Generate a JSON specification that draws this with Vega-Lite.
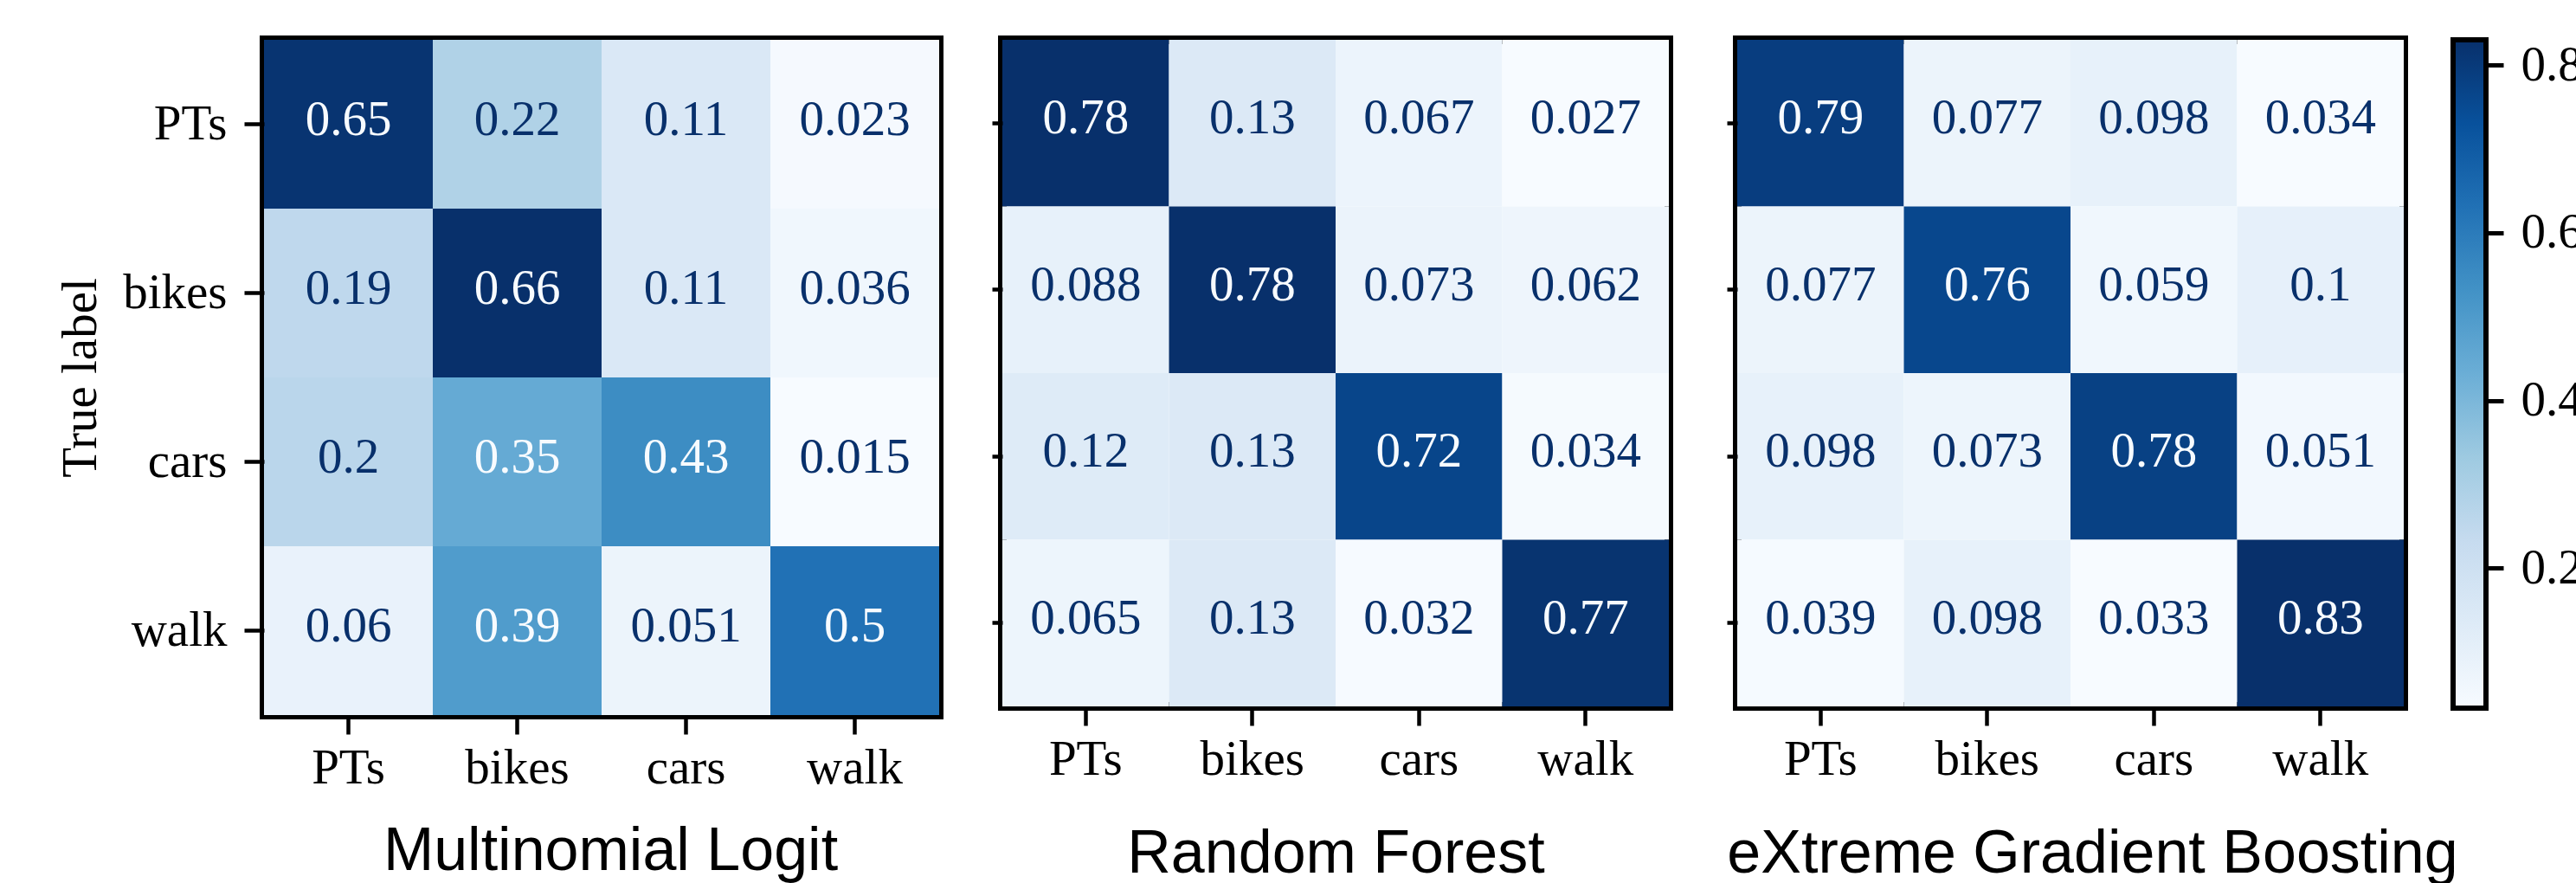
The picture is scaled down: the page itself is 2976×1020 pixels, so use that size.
{
  "$schema": "https://vega.github.io/schema/vega-lite/v6.json",
  "background": "white",
  "padding": {"left": 59, "top": 41, "right": 0, "bottom": 0},
  "config": {
    "view": {"stroke": "black", "strokeWidth": 10},
    "axis": {"grid": false, "domain": false, "tickColor": "black", "tickWidth": 4.5, "labelColor": "black", "labelFont": "Liberation Serif", "labelFontSize": 57, "titleColor": "black", "titleFontWeight": "normal"}
  },
  "datasets": {
    "ml": [
      {"true": "PTs", "pred": "PTs", "v": 0.65}, {"true": "PTs", "pred": "bikes", "v": 0.22}, {"true": "PTs", "pred": "cars", "v": 0.11}, {"true": "PTs", "pred": "walk", "v": 0.023},
      {"true": "bikes", "pred": "PTs", "v": 0.19}, {"true": "bikes", "pred": "bikes", "v": 0.66}, {"true": "bikes", "pred": "cars", "v": 0.11}, {"true": "bikes", "pred": "walk", "v": 0.036},
      {"true": "cars", "pred": "PTs", "v": 0.2}, {"true": "cars", "pred": "bikes", "v": 0.35}, {"true": "cars", "pred": "cars", "v": 0.43}, {"true": "cars", "pred": "walk", "v": 0.015},
      {"true": "walk", "pred": "PTs", "v": 0.06}, {"true": "walk", "pred": "bikes", "v": 0.39}, {"true": "walk", "pred": "cars", "v": 0.051}, {"true": "walk", "pred": "walk", "v": 0.5}
    ],
    "rf": [
      {"true": "PTs", "pred": "PTs", "v": 0.78}, {"true": "PTs", "pred": "bikes", "v": 0.13}, {"true": "PTs", "pred": "cars", "v": 0.067}, {"true": "PTs", "pred": "walk", "v": 0.027},
      {"true": "bikes", "pred": "PTs", "v": 0.088}, {"true": "bikes", "pred": "bikes", "v": 0.78}, {"true": "bikes", "pred": "cars", "v": 0.073}, {"true": "bikes", "pred": "walk", "v": 0.062},
      {"true": "cars", "pred": "PTs", "v": 0.12}, {"true": "cars", "pred": "bikes", "v": 0.13}, {"true": "cars", "pred": "cars", "v": 0.72}, {"true": "cars", "pred": "walk", "v": 0.034},
      {"true": "walk", "pred": "PTs", "v": 0.065}, {"true": "walk", "pred": "bikes", "v": 0.13}, {"true": "walk", "pred": "cars", "v": 0.032}, {"true": "walk", "pred": "walk", "v": 0.77}
    ],
    "xgb": [
      {"true": "PTs", "pred": "PTs", "v": 0.79}, {"true": "PTs", "pred": "bikes", "v": 0.077}, {"true": "PTs", "pred": "cars", "v": 0.098}, {"true": "PTs", "pred": "walk", "v": 0.034},
      {"true": "bikes", "pred": "PTs", "v": 0.077}, {"true": "bikes", "pred": "bikes", "v": 0.76}, {"true": "bikes", "pred": "cars", "v": 0.059}, {"true": "bikes", "pred": "walk", "v": 0.1},
      {"true": "cars", "pred": "PTs", "v": 0.098}, {"true": "cars", "pred": "bikes", "v": 0.073}, {"true": "cars", "pred": "cars", "v": 0.78}, {"true": "cars", "pred": "walk", "v": 0.051},
      {"true": "walk", "pred": "PTs", "v": 0.039}, {"true": "walk", "pred": "bikes", "v": 0.098}, {"true": "walk", "pred": "cars", "v": 0.033}, {"true": "walk", "pred": "walk", "v": 0.83}
    ]
  },
  "resolve": {"scale": {"color": "independent"}},
  "spacing": 48,
  "hconcat": [
    {
      "width": 780, "height": 780,
      "data": {"name": "ml"},
      "encoding": {
        "x": {"field": "pred", "type": "nominal", "sort": ["PTs", "bikes", "cars", "walk"], "scale": {"paddingInner": 0, "paddingOuter": 0},
          "axis": {"labelAngle": 0, "labelPadding": 11, "tickSize": 22, "title": "Multinomial Logit", "titleFont": "Liberation Sans", "titleFontSize": 70, "titlePadding": 34, "titleX": 400}},
        "y": {"field": "true", "type": "nominal", "sort": ["PTs", "bikes", "cars", "walk"], "scale": {"paddingInner": 0, "paddingOuter": 0},
          "axis": {"labelPadding": 20, "tickSize": 23, "title": "True label", "titleFont": "Liberation Serif", "titleFontSize": 57, "titlePadding": 19}}
      },
      "layer": [
        {"mark": "rect", "encoding": {"color": {"field": "v", "type": "quantitative", "legend": null,
          "scale": {"domain": [0.015, 0.095625, 0.17625, 0.256875, 0.3375, 0.418125, 0.49875, 0.579375, 0.66], "range": ["#f7fbff", "#deebf7", "#c6dbef", "#9ecae1", "#6baed6", "#4292c6", "#2171b5", "#08519c", "#08306b"], "interpolate": "rgb"}}}},
        {"mark": {"type": "text", "font": "Liberation Serif", "fontSize": 57, "dy": -5},
          "encoding": {"text": {"field": "v", "type": "nominal"}, "color": {"condition": {"test": "datum.v > 0.3375", "value": "#f7fbff"}, "value": "#08306b"}}}
      ]
    },
    {
      "spacing": 54,
      "resolve": {"scale": {"color": "independent"}},
      "hconcat": [
        {
          "width": 770, "height": 770,
          "data": {"name": "rf"},
          "encoding": {
            "x": {"field": "pred", "type": "nominal", "sort": ["PTs", "bikes", "cars", "walk"], "scale": {"paddingInner": 0, "paddingOuter": 0},
              "axis": {"labelAngle": 0, "labelPadding": 11, "tickSize": 22, "title": "Random Forest", "titleFont": "Liberation Sans", "titleFontSize": 70, "titlePadding": 47}},
            "y": {"field": "true", "type": "nominal", "sort": ["PTs", "bikes", "cars", "walk"], "scale": {"paddingInner": 0, "paddingOuter": 0},
              "axis": {"labels": false, "tickSize": 12, "title": null}}
          },
          "layer": [
            {"mark": "rect", "encoding": {"color": {"field": "v", "type": "quantitative", "legend": null,
              "scale": {"domain": [0.027, 0.121125, 0.21525, 0.309375, 0.4035, 0.497625, 0.59175, 0.685875, 0.78], "range": ["#f7fbff", "#deebf7", "#c6dbef", "#9ecae1", "#6baed6", "#4292c6", "#2171b5", "#08519c", "#08306b"], "interpolate": "rgb"}}}},
            {"mark": {"type": "text", "font": "Liberation Serif", "fontSize": 57, "dy": -5},
              "encoding": {"text": {"field": "v", "type": "nominal"}, "color": {"condition": {"test": "datum.v > 0.4035", "value": "#f7fbff"}, "value": "#08306b"}}}
          ]
        },
        {
          "spacing": 57,
          "bounds": "flush",
          "resolve": {"scale": {"color": "independent"}},
          "hconcat": [
            {
              "width": 770, "height": 770,
              "data": {"name": "xgb"},
              "encoding": {
                "x": {"field": "pred", "type": "nominal", "sort": ["PTs", "bikes", "cars", "walk"], "scale": {"paddingInner": 0, "paddingOuter": 0},
                  "axis": {"labelAngle": 0, "labelPadding": 11, "tickSize": 22, "title": "eXtreme Gradient Boosting", "titleFont": "Liberation Sans", "titleFontSize": 70, "titlePadding": 47, "titleX": 410}},
                "y": {"field": "true", "type": "nominal", "sort": ["PTs", "bikes", "cars", "walk"], "scale": {"paddingInner": 0, "paddingOuter": 0},
                  "axis": {"labels": false, "tickSize": 12, "title": null}}
              },
              "layer": [
                {"mark": "rect", "encoding": {"color": {"field": "v", "type": "quantitative", "legend": null,
                  "scale": {"domain": [0.033, 0.132625, 0.23225, 0.331875, 0.4315, 0.531125, 0.63075, 0.730375, 0.83], "range": ["#f7fbff", "#deebf7", "#c6dbef", "#9ecae1", "#6baed6", "#4292c6", "#2171b5", "#08519c", "#08306b"], "interpolate": "rgb"}}}},
                {"mark": {"type": "text", "font": "Liberation Serif", "fontSize": 57, "dy": -5},
                  "encoding": {"text": {"field": "v", "type": "nominal"}, "color": {"condition": {"test": "datum.v > 0.4315", "value": "#f7fbff"}, "value": "#08306b"}}}
              ]
            },
            {
              "width": 38, "height": 772,
              "data": {"name": "xgb"},
              "view": {"stroke": null},
              "mark": {"type": "rect", "stroke": "black", "strokeWidth": 6,
                "fill": {"gradient": "linear", "x1": 0, "y1": 1, "x2": 0, "y2": 0, "stops": [
                  {"offset": 0, "color": "#f7fbff"}, {"offset": 0.125, "color": "#deebf7"}, {"offset": 0.25, "color": "#c6dbef"}, {"offset": 0.375, "color": "#9ecae1"}, {"offset": 0.5, "color": "#6baed6"}, {"offset": 0.625, "color": "#4292c6"}, {"offset": 0.75, "color": "#2171b5"}, {"offset": 0.875, "color": "#08519c"}, {"offset": 1, "color": "#08306b"}]}},
              "encoding": {
                "y": {"aggregate": "min", "field": "v", "type": "quantitative", "scale": {"zero": false, "nice": false},
                  "axis": {"orient": "right", "values": [0.2, 0.4, 0.6, 0.8], "format": ".1f", "tickSize": 20, "tickWidth": 5, "labelPadding": 20, "title": null}},
                "y2": {"aggregate": "max", "field": "v"}
              }
            }
          ]
        }
      ]
    }
  ]
}
